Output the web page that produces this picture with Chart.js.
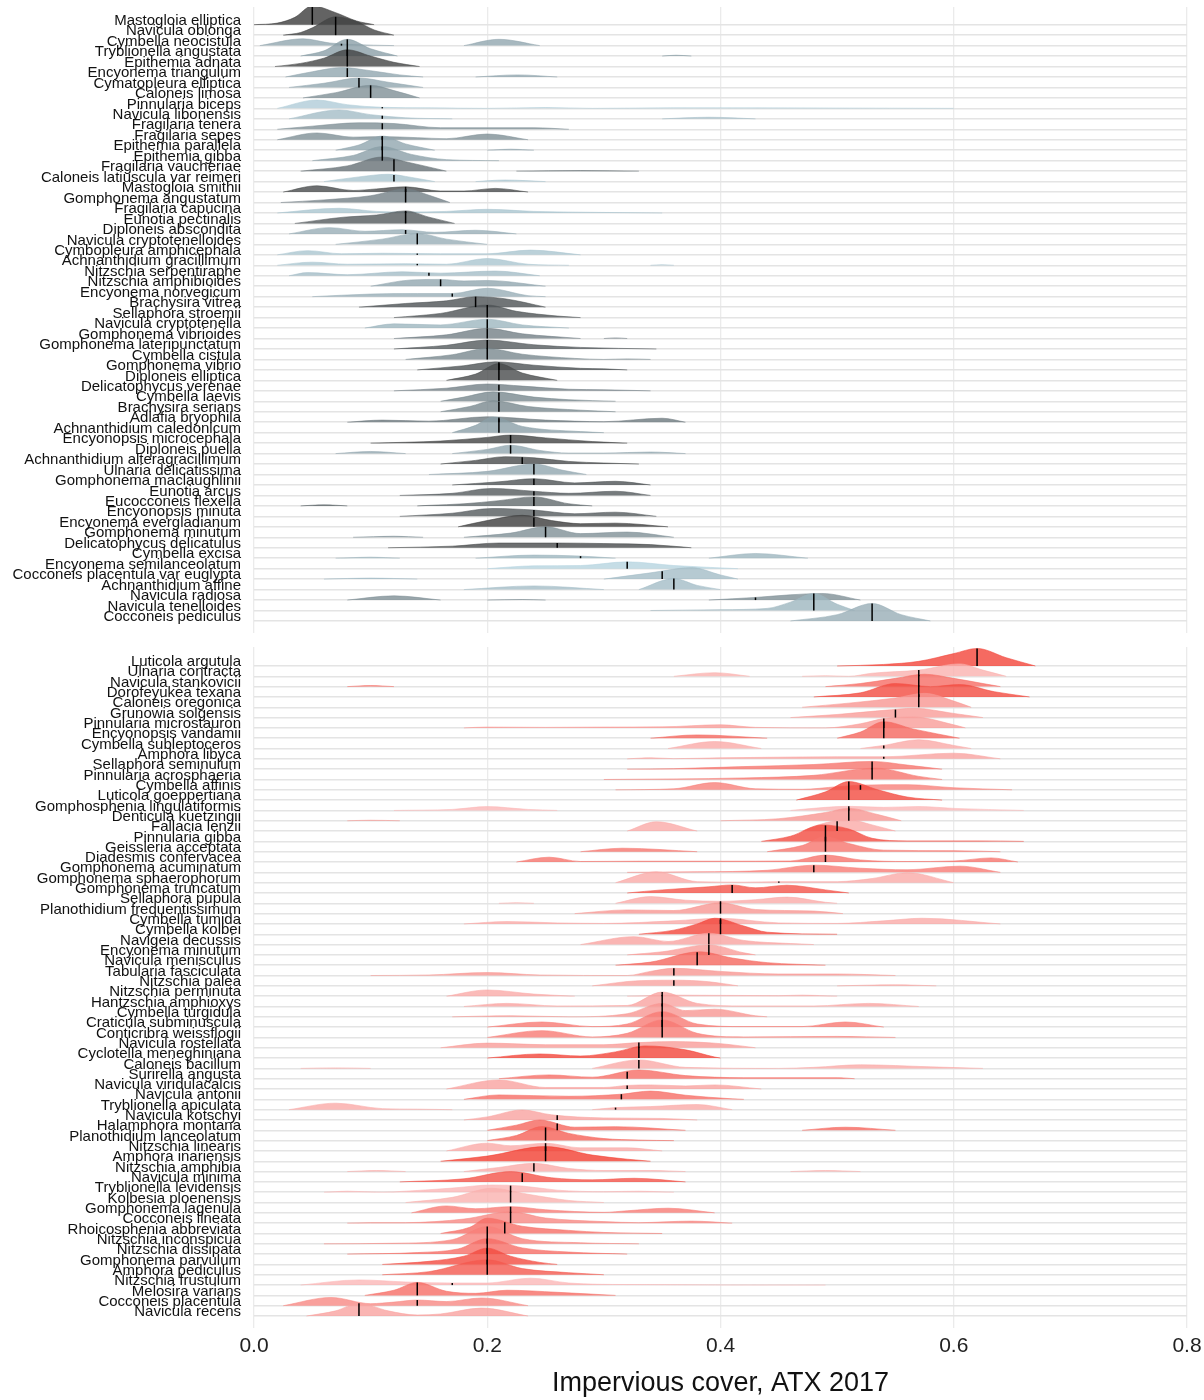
<!DOCTYPE html>
<html>
<head>
<meta charset="utf-8">
<title>Impervious cover ridgelines</title>
<script src="https://cdn.jsdelivr.net/npm/chart.js@4/dist/chart.umd.min.js"></script>
<style>

	body { margin: 0; background: #fff; }
	#wrap { position: relative; width: 1204px; height: 1400px; }
	canvas { position: absolute; left: 0; }
	#top { top: 0; }
	#bottom { top: 640px; }

</style>
</head>
<body>
<div id="wrap">
	<canvas id="top" width="1204" height="640"></canvas>
	<canvas id="bottom" width="1204" height="760"></canvas>
</div>
<script>

// species in the upper panel, top to bottom
const topNames = [
	'Mastogloia elliptica', 'Navicula oblonga', 'Cymbella neocistula', 'Tryblionella angustata',
	'Epithemia adnata', 'Encyonema triangulum', 'Cymatopleura elliptica', 'Caloneis limosa',
	'Pinnularia biceps', 'Navicula libonensis', 'Fragilaria tenera', 'Fragilaria sepes',
	'Epithemia parallela', 'Epithemia gibba', 'Fragilaria vaucheriae', 'Caloneis latiuscula var reimeri',
	'Mastogloia smithii', 'Gomphonema angustatum', 'Fragilaria capucina', 'Eunotia pectinalis',
	'Diploneis abscondita', 'Navicula cryptotenelloides', 'Cymbopleura amphicephala', 'Achnanthidium gracillimum',
	'Nitzschia serpentiraphe', 'Nitzschia amphibioides', 'Encyonema norvegicum', 'Brachysira vitrea',
	'Sellaphora stroemii', 'Navicula cryptotenella', 'Gomphonema vibrioides', 'Gomphonema lateripunctatum',
	'Cymbella cistula', 'Gomphonema vibrio', 'Diploneis elliptica', 'Delicatophycus verenae',
	'Cymbella laevis', 'Brachysira serians', 'Adlafia bryophila', 'Achnanthidium caledonicum',
	'Encyonopsis microcephala', 'Diploneis puella', 'Achnanthidium alteragracillimum', 'Ulnaria delicatissima',
	'Gomphonema maclaughlinii', 'Eunotia arcus', 'Eucocconeis flexella', 'Encyonopsis minuta',
	'Encyonema evergladianum', 'Gomphonema minutum', 'Delicatophycus delicatulus', 'Cymbella excisa',
	'Encyonema semilanceolatum', 'Cocconeis placentula var euglypta', 'Achnanthidium affine', 'Navicula radiosa',
	'Navicula tenelloides', 'Cocconeis pediculus'
];

// threshold marks (impervious cover) for the upper panel
const topTicks = [
	0.05, 0.07, 0.075, 0.08, 0.08, 0.08, 0.09, 0.10, 0.11, 0.11, 0.11, 0.11, 0.11, 0.11,
	0.12, 0.12, 0.13, 0.13, 0.13, 0.13, 0.13, 0.14, 0.14, 0.14, 0.15, 0.16, 0.17, 0.19,
	0.20, 0.20, 0.20, 0.20, 0.20, 0.21, 0.21, 0.21, 0.21, 0.21, 0.21, 0.21, 0.22, 0.22,
	0.23, 0.24, 0.24, 0.24, 0.24, 0.24, 0.24, 0.25, 0.26, 0.28, 0.32, 0.35, 0.36, 0.43,
	0.48, 0.53
];

// fill shade, 0 = dark grey, 1 = light blue
const topShade = [
	0.0, 0.05, 0.7, 0.65, 0.05, 0.7, 0.7, 0.55, 0.95, 0.85, 0.55, 0.55, 0.7, 0.65,
	0.35, 0.9, 0.1, 0.45, 0.9, 0.2, 0.75, 0.75, 0.9, 0.9, 0.85, 0.7, 0.75, 0.15,
	0.15, 0.8, 0.45, 0.2, 0.5, 0.15, 0.1, 0.45, 0.5, 0.5, 0.4, 0.65, 0.05, 0.7,
	0.1, 0.7, 0.15, 0.2, 0.3, 0.2, 0.0, 0.55, 0.1, 0.8, 1.0, 0.85, 0.85, 0.55,
	0.8, 0.75
];

// density outlines as x, height pairs (height in rows)
const topRidges = [
	[ 0.0,0, 0.02,0.15, 0.035,0.7, 0.05,1.8, 0.07,1.15, 0.088,0.35, 0.103,0 ],
	[ 0.025,0, 0.04,0.25, 0.05,0.7, 0.07,1.75, 0.088,1.3, 0.103,0.5, 0.12,0 ],
	[ 0.005,0, 0.042,0.65, 0.065,0.25, 0.085,0.1, 0.12,0, 0.18,0, 0.21,0.6, 0.245,0 ],
	[ 0.04,0, 0.06,0.5, 0.08,1.6, 0.1,0.7, 0.123,0, 0.35,0, 0.362,0.08, 0.375,0 ],
	[ 0.018,0, 0.04,0.3, 0.06,0.8, 0.08,1.6, 0.1,1.0, 0.12,0.4, 0.142,0 ],
	[ 0.027,0, 0.05,0.5, 0.075,0.9, 0.1,0.6, 0.125,0.2, 0.145,0, 0.19,0, 0.226,0.2, 0.26,0 ],
	[ 0.03,0, 0.06,0.4, 0.09,0.9, 0.115,0.5, 0.145,0 ],
	[ 0.042,0, 0.07,0.5, 0.1,1.2, 0.12,0.7, 0.142,0 ],
	[ 0.02,0, 0.054,0.8, 0.08,0.35, 0.11,0.1, 0.15,0.05, 0.2,0, 0.25,0.08, 0.29,0, 0.36,0.05, 0.5,0.03, 0.6,0 ],
	[ 0.03,0, 0.073,0.85, 0.1,0.4, 0.13,0.1, 0.17,0, 0.35,0, 0.39,0.15, 0.43,0 ],
	[ 0.02,0, 0.05,0.3, 0.09,0.62, 0.12,0.55, 0.16,0.15, 0.2,0.15, 0.24,0.15, 0.27,0 ],
	[ 0.02,0, 0.054,0.65, 0.085,0.25, 0.11,0.3, 0.14,0.2, 0.165,0.1, 0.2,0.55, 0.235,0 ],
	[ 0.07,0, 0.09,0.5, 0.11,1.35, 0.13,0.6, 0.155,0, 0.2,0, 0.22,0.1, 0.24,0 ],
	[ 0.05,0, 0.085,0.5, 0.11,1.35, 0.135,0.6, 0.165,0.1, 0.21,0 ],
	[ 0.04,0, 0.08,0.5, 0.11,1.35, 0.13,0.9, 0.165,0, 0.225,0, 0.28,0.05, 0.33,0 ],
	[ 0.06,0, 0.09,0.45, 0.115,0.7, 0.135,0.4, 0.155,0, 0.19,0, 0.215,0.15, 0.25,0 ],
	[ 0.025,0, 0.054,0.6, 0.085,0.15, 0.105,0.3, 0.13,0.5, 0.16,0.1, 0.18,0.1, 0.207,0.35, 0.235,0 ],
	[ 0.023,0, 0.06,0.25, 0.1,0.65, 0.13,1.3, 0.15,0.7, 0.168,0 ],
	[ 0.02,0, 0.073,0.45, 0.105,0.15, 0.13,0.1, 0.165,0.15, 0.2,0.35, 0.24,0.15, 0.3,0.05, 0.35,0 ],
	[ 0.035,0, 0.077,0.6, 0.105,0.8, 0.13,1.2, 0.15,0.6, 0.172,0 ],
	[ 0.03,0, 0.065,0.6, 0.095,0.25, 0.127,0.4, 0.155,0.15, 0.19,0.35, 0.225,0 ],
	[ 0.07,0, 0.11,0.5, 0.14,1.05, 0.165,0.5, 0.2,0 ],
	[ 0.02,0, 0.046,0.4, 0.075,0.1, 0.11,0.15, 0.16,0.1, 0.2,0.1, 0.237,0.45, 0.28,0 ],
	[ 0.02,0, 0.05,0.3, 0.08,0.1, 0.13,0.15, 0.165,0.1, 0.2,0.65, 0.235,0.1, 0.27,0, 0.34,0, 0.35,0.05, 0.36,0 ],
	[ 0.03,0, 0.046,0.3, 0.08,0.1, 0.127,0.38, 0.16,0.25, 0.207,0.45, 0.245,0 ],
	[ 0.1,0, 0.135,0.6, 0.16,0.65, 0.18,0.5, 0.2,0.55, 0.25,0 ],
	[ 0.05,0, 0.1,0.25, 0.14,0.3, 0.17,0.3, 0.2,0.8, 0.235,0.1, 0.25,0 ],
	[ 0.09,0, 0.13,0.35, 0.165,0.6, 0.19,1.0, 0.215,0.8, 0.25,0 ],
	[ 0.12,0, 0.16,0.4, 0.2,1.2, 0.225,0.6, 0.26,0.15, 0.28,0 ],
	[ 0.095,0, 0.12,0.4, 0.16,0.3, 0.2,0.85, 0.23,0.3, 0.27,0 ],
	[ 0.12,0, 0.165,0.35, 0.2,0.97, 0.23,0.45, 0.28,0, 0.3,0, 0.31,0.06, 0.32,0 ],
	[ 0.12,0, 0.165,0.35, 0.2,0.85, 0.24,0.4, 0.28,0.15, 0.345,0 ],
	[ 0.13,0, 0.17,0.45, 0.2,1.05, 0.23,0.5, 0.275,0.1, 0.3,0, 0.32,0.05, 0.34,0 ],
	[ 0.14,0, 0.18,0.4, 0.207,0.77, 0.24,0.45, 0.28,0.15, 0.3,0.1, 0.32,0 ],
	[ 0.165,0, 0.19,0.6, 0.21,1.6, 0.23,0.7, 0.26,0 ],
	[ 0.12,0, 0.165,0.25, 0.2,0.65, 0.23,0.45, 0.27,0.15, 0.3,0.1, 0.34,0 ],
	[ 0.16,0, 0.18,0.4, 0.205,0.9, 0.24,0.4, 0.27,0.15, 0.31,0 ],
	[ 0.16,0, 0.185,0.5, 0.205,1.05, 0.235,0.5, 0.28,0.15, 0.31,0 ],
	[ 0.08,0, 0.11,0.2, 0.15,0.1, 0.2,0.52, 0.25,0.2, 0.3,0.05, 0.35,0.38, 0.37,0 ],
	[ 0.17,0, 0.19,0.7, 0.205,1.5, 0.23,0.6, 0.28,0.1, 0.3,0 ],
	[ 0.1,0, 0.16,0.2, 0.2,0.55, 0.22,0.77, 0.25,0.5, 0.29,0.15, 0.32,0 ],
	[ 0.07,0, 0.1,0.2, 0.13,0, 0.17,0, 0.2,0.4, 0.22,0.8, 0.245,0.3, 0.27,0.05, 0.3,0.05, 0.34,0.15, 0.37,0 ],
	[ 0.16,0, 0.19,0.35, 0.215,0.7, 0.24,0.6, 0.27,0.25, 0.3,0.1, 0.33,0 ],
	[ 0.15,0, 0.2,0.3, 0.24,1.0, 0.265,0.4, 0.285,0 ],
	[ 0.17,0, 0.21,0.3, 0.24,0.6, 0.275,0.2, 0.31,0.35, 0.34,0 ],
	[ 0.125,0, 0.17,0.2, 0.204,0.67, 0.24,0.4, 0.27,0.2, 0.31,0.4, 0.34,0 ],
	[ 0.04,0, 0.06,0.1, 0.08,0, 0.14,0, 0.15,0.05, 0.18,0.2, 0.21,0.5, 0.24,0.86, 0.27,0.2, 0.29,0 ],
	[ 0.125,0, 0.17,0.3, 0.204,0.75, 0.24,0.6, 0.275,0.25, 0.31,0.4, 0.345,0 ],
	[ 0.175,0, 0.2,0.6, 0.23,1.1, 0.255,0.6, 0.28,0.3, 0.31,0.35, 0.355,0 ],
	[ 0.085,0, 0.12,0.1, 0.145,0, 0.18,0, 0.22,0.4, 0.25,1.0, 0.28,0.35, 0.32,0.5, 0.36,0 ],
	[ 0.115,0, 0.17,0.15, 0.21,0.45, 0.26,0.45, 0.3,0.4, 0.34,0.3, 0.375,0 ],
	[ 0.07,0, 0.1,0.1, 0.125,0, 0.19,0, 0.24,0.3, 0.28,0.2, 0.31,0, 0.39,0, 0.43,0.45, 0.475,0 ],
	[ 0.2,0, 0.24,0.27, 0.28,0.3, 0.32,0.65, 0.36,0.3, 0.415,0 ],
	[ 0.06,0, 0.1,0.1, 0.14,0, 0.3,0, 0.34,0.6, 0.375,1.1, 0.4,0.4, 0.415,0 ],
	[ 0.18,0, 0.24,0.35, 0.3,0, 0.33,0, 0.36,1.05, 0.38,0.4, 0.4,0 ],
	[ 0.08,0, 0.12,0.4, 0.16,0, 0.2,0, 0.23,0.05, 0.25,0, 0.39,0, 0.43,0.25, 0.46,0.5, 0.487,0.63, 0.52,0 ],
	[ 0.34,0, 0.4,0.08, 0.44,0.2, 0.46,0.8, 0.48,1.62, 0.5,0.6, 0.515,0 ],
	[ 0.46,0, 0.5,0.6, 0.53,1.67, 0.555,0.6, 0.58,0 ]
];

// species in the lower panel, top to bottom
const botNames = [
	'Luticola argutula', 'Ulnaria contracta', 'Navicula stankovicii', 'Dorofeyukea texana',
	'Caloneis oregonica', 'Grunowia solgensis', 'Pinnularia microstauron', 'Encyonopsis vandamii',
	'Cymbella subleptoceros', 'Amphora libyca', 'Sellaphora seminulum', 'Pinnularia acrosphaeria',
	'Cymbella affinis', 'Luticola goeppertiana', 'Gomphosphenia lingulatiformis', 'Denticula kuetzingii',
	'Fallacia lenzii', 'Pinnularia gibba', 'Geissleria acceptata', 'Diadesmis confervacea',
	'Gomphonema acuminatum', 'Gomphonema sphaerophorum', 'Gomphonema truncatum', 'Sellaphora pupula',
	'Planothidium frequentissimum', 'Cymbella tumida', 'Cymbella kolbei', 'Navigeia decussis',
	'Encyonema minutum', 'Navicula menisculus', 'Tabularia fasciculata', 'Nitzschia palea',
	'Nitzschia perminuta', 'Hantzschia amphioxys', 'Cymbella turgidula', 'Craticula subminuscula',
	'Conticribra weissflogii', 'Navicula rostellata', 'Cyclotella meneghiniana', 'Caloneis bacillum',
	'Surirella angusta', 'Navicula viridulacalcis', 'Navicula antonii', 'Tryblionella apiculata',
	'Navicula kotschyi', 'Halamphora montana', 'Planothidium lanceolatum', 'Nitzschia linearis',
	'Amphora inariensis', 'Nitzschia amphibia', 'Navicula minima', 'Tryblionella levidensis',
	'Kolbesia ploenensis', 'Gomphonema lagenula', 'Cocconeis lineata', 'Rhoicosphenia abbreviata',
	'Nitzschia inconspicua', 'Nitzschia dissipata', 'Gomphonema parvulum', 'Amphora pediculus',
	'Nitzschia frustulum', 'Melosira varians', 'Cocconeis placentula', 'Navicula recens'
];

const botTicks = [
	0.62, 0.57, 0.57, 0.57, 0.57, 0.55, 0.54, 0.54, 0.54, 0.54, 0.53, 0.53, 0.52, 0.51,
	0.51, 0.51, 0.50, 0.49, 0.49, 0.49, 0.48, 0.45, 0.41, 0.40, 0.40, 0.40, 0.40, 0.39,
	0.39, 0.38, 0.36, 0.36, 0.35, 0.35, 0.35, 0.35, 0.35, 0.33, 0.33, 0.33, 0.32, 0.32,
	0.315, 0.31, 0.26, 0.26, 0.25, 0.25, 0.25, 0.24, 0.23, 0.22, 0.22, 0.22, 0.22, 0.215,
	0.20, 0.20, 0.20, 0.20, 0.17, 0.14, 0.14, 0.09
];

// fill shade, 0 = red, 1 = light pink
const botShade = [
	0.1, 0.9, 0.4, 0.15, 0.7, 0.75, 0.75, 0.35, 0.85, 0.8, 0.45, 0.45, 0.55, 0.15,
	0.95, 0.7, 0.85, 0.15, 0.45, 0.45, 0.5, 0.85, 0.2, 0.85, 0.7, 0.85, 0.1, 0.8,
	0.75, 0.35, 0.7, 0.8, 0.85, 0.8, 0.7, 0.5, 0.5, 0.75, 0.1, 0.85, 0.4, 0.8,
	0.4, 0.85, 0.8, 0.35, 0.3, 0.85, 0.05, 0.85, 0.2, 0.95, 0.9, 0.5, 0.6, 0.4,
	0.55, 0.4, 0.15, 0.25, 0.95, 0.4, 0.6, 0.8
];

const botRidges = [
	[ 0.5,0, 0.54,0.15, 0.57,0.45, 0.6,1.2, 0.62,1.7, 0.645,0.8, 0.67,0 ],
	[ 0.36,0, 0.395,0.35, 0.425,0, 0.47,0, 0.49,0.05, 0.51,0, 0.53,0.3, 0.57,0.6, 0.605,1.2, 0.625,0.6, 0.645,0 ],
	[ 0.08,0, 0.1,0.1, 0.12,0, 0.49,0, 0.52,0.3, 0.55,0.8, 0.575,1.2, 0.6,0.8, 0.625,0.3, 0.64,0 ],
	[ 0.48,0, 0.52,0.4, 0.55,1.3, 0.58,1.0, 0.605,1.2, 0.635,0.5, 0.665,0 ],
	[ 0.47,0, 0.51,0.4, 0.55,0.9, 0.575,1.35, 0.6,0.6, 0.615,0 ],
	[ 0.46,0, 0.5,0.3, 0.54,0.7, 0.566,0.9, 0.6,0.4, 0.625,0 ],
	[ 0.18,0, 0.2,0.08, 0.25,0.05, 0.3,0.08, 0.35,0.1, 0.4,0.3, 0.43,0.05, 0.49,0, 0.52,0.4, 0.54,0.9, 0.566,1.05, 0.6,0.3, 0.61,0 ],
	[ 0.34,0, 0.38,0.32, 0.44,0, 0.5,0, 0.52,0.6, 0.54,1.6, 0.565,0.9, 0.605,0 ],
	[ 0.355,0, 0.395,0.68, 0.435,0, 0.52,0, 0.54,0.3, 0.57,0.85, 0.6,0.3, 0.615,0 ],
	[ 0.32,0, 0.34,0.1, 0.36,0.02, 0.4,0.1, 0.44,0.15, 0.5,0.2, 0.54,0.2, 0.6,0.55, 0.64,0 ],
	[ 0.32,0, 0.36,0.05, 0.42,0.25, 0.48,0.45, 0.53,0.75, 0.56,0.4, 0.59,0 ],
	[ 0.3,0, 0.36,0.05, 0.42,0.15, 0.48,0.4, 0.533,1.1, 0.57,0.3, 0.59,0 ],
	[ 0.31,0, 0.36,0.1, 0.395,0.7, 0.43,0.1, 0.47,0.05, 0.5,0.3, 0.52,0.45, 0.56,0.5, 0.6,0.2, 0.65,0 ],
	[ 0.465,0, 0.49,0.8, 0.51,1.8, 0.535,1.0, 0.56,0.3, 0.59,0 ],
	[ 0.12,0, 0.17,0.1, 0.2,0.37, 0.235,0.1, 0.26,0, 0.46,0, 0.49,0.3, 0.51,0.4, 0.54,0.3, 0.57,0.38, 0.6,0.2, 0.66,0 ],
	[ 0.08,0, 0.1,0.05, 0.125,0, 0.4,0, 0.45,0.2, 0.49,0.8, 0.51,1.2, 0.535,0.6, 0.555,0 ],
	[ 0.32,0, 0.345,0.9, 0.38,0, 0.47,0, 0.49,0.8, 0.51,1.1, 0.53,0.6, 0.55,0 ],
	[ 0.435,0, 0.46,0.5, 0.487,1.6, 0.51,1.2, 0.53,0.3, 0.56,0.05, 0.62,0.05, 0.66,0 ],
	[ 0.28,0, 0.316,0.34, 0.38,0, 0.44,0, 0.47,0.6, 0.49,1.45, 0.51,0.8, 0.54,0.15, 0.6,0.1, 0.64,0 ],
	[ 0.225,0, 0.253,0.47, 0.28,0.05, 0.33,0.08, 0.4,0.08, 0.46,0.1, 0.49,0.68, 0.52,0.2, 0.56,0.05, 0.6,0.1, 0.632,0.4, 0.655,0 ],
	[ 0.32,0, 0.38,0.05, 0.44,0.2, 0.48,0.7, 0.52,0.4, 0.56,0.25, 0.605,0.6, 0.64,0 ],
	[ 0.31,0, 0.345,1.05, 0.38,0.1, 0.42,0.05, 0.45,0.1, 0.5,0.1, 0.53,0.4, 0.56,0.97, 0.6,0 ],
	[ 0.32,0, 0.35,0.3, 0.39,0.6, 0.41,0.78, 0.43,0.5, 0.457,0.75, 0.49,0.3, 0.51,0 ],
	[ 0.21,0, 0.225,0.05, 0.24,0, 0.31,0, 0.34,0.65, 0.37,0.3, 0.4,0.2, 0.43,0.35, 0.457,0.6, 0.49,0.1, 0.5,0 ],
	[ 0.275,0, 0.32,0.36, 0.36,0.3, 0.4,1.05, 0.43,0.4, 0.48,0.25, 0.505,0 ],
	[ 0.18,0, 0.217,0.23, 0.26,0.1, 0.3,0.05, 0.36,0.3, 0.4,0.55, 0.45,0.1, 0.5,0.05, 0.54,0.3, 0.573,0.55, 0.64,0 ],
	[ 0.33,0, 0.36,0.4, 0.38,1.0, 0.395,1.55, 0.42,0.8, 0.44,0.2, 0.5,0 ],
	[ 0.28,0, 0.326,0.77, 0.355,0.3, 0.39,1.1, 0.42,0.4, 0.46,0.1, 0.48,0 ],
	[ 0.32,0, 0.35,0.3, 0.39,0.97, 0.42,0.2, 0.43,0 ],
	[ 0.31,0, 0.34,0.3, 0.382,1.3, 0.41,0.7, 0.44,0.25, 0.49,0 ],
	[ 0.1,0, 0.15,0.05, 0.2,0.29, 0.245,0.05, 0.32,0, 0.34,0.4, 0.36,0.7, 0.4,0.4, 0.45,0.15, 0.5,0.15, 0.55,0 ],
	[ 0.29,0, 0.33,0.5, 0.36,0.55, 0.39,0.4, 0.415,0, 0.5,0, 0.55,0.1, 0.585,0 ],
	[ 0.165,0, 0.2,0.6, 0.24,0.2, 0.275,0, 0.32,0, 0.36,0.1, 0.45,0.05, 0.47,0.1, 0.5,0 ],
	[ 0.18,0, 0.217,0.3, 0.26,0.05, 0.32,0.1, 0.35,1.4, 0.38,0.3, 0.42,0.05, 0.48,0.05, 0.527,0.3, 0.57,0 ],
	[ 0.17,0, 0.22,0.1, 0.27,0, 0.32,0.3, 0.35,1.3, 0.37,0.6, 0.395,0.74, 0.43,0.1, 0.44,0 ],
	[ 0.2,0, 0.247,0.5, 0.29,0.05, 0.32,0.3, 0.35,1.5, 0.38,0.3, 0.42,0.05, 0.47,0.05, 0.507,0.5, 0.54,0 ],
	[ 0.2,0, 0.247,0.66, 0.29,0.05, 0.32,0.4, 0.35,1.7, 0.38,0.4, 0.42,0.05, 0.5,0.1, 0.55,0 ],
	[ 0.16,0, 0.2,0.45, 0.25,0.3, 0.3,0.3, 0.33,0.5, 0.36,0.6, 0.4,0.4, 0.43,0 ],
	[ 0.2,0, 0.245,0.4, 0.28,0.2, 0.31,0.6, 0.335,1.18, 0.37,0.8, 0.395,0.1, 0.4,0 ],
	[ 0.04,0, 0.07,0.05, 0.1,0, 0.29,0, 0.33,0.82, 0.37,0.1, 0.45,0, 0.48,0.1, 0.52,0.35, 0.58,0.15, 0.625,0 ],
	[ 0.21,0, 0.253,0.37, 0.29,0.15, 0.33,0.85, 0.37,0.3, 0.42,0.1, 0.5,0.1, 0.515,0 ],
	[ 0.165,0, 0.21,0.88, 0.25,0.15, 0.3,0.15, 0.32,0.35, 0.34,0.4, 0.37,0.3, 0.395,0.4, 0.435,0 ],
	[ 0.18,0, 0.21,0.43, 0.27,0.3, 0.315,0.5, 0.34,0.8, 0.37,0.4, 0.41,0.05, 0.42,0 ],
	[ 0.03,0, 0.07,0.63, 0.11,0.1, 0.14,0.05, 0.17,0, 0.29,0, 0.31,0.2, 0.34,0.3, 0.38,0.5, 0.41,0 ],
	[ 0.18,0, 0.2,0.3, 0.23,0.97, 0.255,0.5, 0.3,0.2, 0.35,0.15, 0.38,0 ],
	[ 0.2,0, 0.225,0.5, 0.245,1.0, 0.275,0.3, 0.31,0.35, 0.37,0, 0.47,0, 0.507,0.3, 0.55,0 ],
	[ 0.2,0, 0.225,0.5, 0.247,1.36, 0.27,0.7, 0.3,0.2, 0.33,0.05, 0.36,0 ],
	[ 0.165,0, 0.2,0.75, 0.22,0.5, 0.25,0.75, 0.28,0.3, 0.32,0.3, 0.35,0 ],
	[ 0.16,0, 0.2,0.5, 0.25,1.42, 0.29,0.6, 0.32,0.2, 0.34,0 ],
	[ 0.08,0, 0.105,0.1, 0.13,0, 0.18,0, 0.21,0.4, 0.24,0.8, 0.27,0.3, 0.3,0.1, 0.34,0.1, 0.37,0, 0.46,0, 0.49,0.1, 0.52,0 ],
	[ 0.125,0, 0.18,0.3, 0.22,1.0, 0.255,0.4, 0.29,0.2, 0.326,0.35, 0.37,0 ],
	[ 0.06,0, 0.08,0.1, 0.11,0, 0.13,0.1, 0.17,0.4, 0.204,0.7, 0.23,0.6, 0.26,0.2, 0.3,0.05, 0.33,0.1, 0.36,0 ],
	[ 0.13,0, 0.17,0.5, 0.204,1.38, 0.235,0.8, 0.27,0.2, 0.3,0 ],
	[ 0.135,0, 0.165,0.67, 0.19,0.4, 0.22,0.6, 0.25,0.3, 0.3,0.05, 0.32,0.2, 0.355,0.45, 0.395,0 ],
	[ 0.08,0, 0.1,0.05, 0.13,0.05, 0.18,0.4, 0.22,1.1, 0.25,0.5, 0.3,0.15, 0.33,0.05, 0.375,0.2, 0.41,0 ],
	[ 0.16,0, 0.185,0.6, 0.2,1.48, 0.23,0.7, 0.27,0.3, 0.3,0.1, 0.35,0 ],
	[ 0.06,0, 0.12,0.05, 0.17,0.4, 0.2,1.67, 0.23,0.5, 0.28,0.1, 0.33,0 ],
	[ 0.08,0, 0.14,0.15, 0.175,0.5, 0.2,1.5, 0.23,0.6, 0.27,0.2, 0.32,0 ],
	[ 0.11,0, 0.15,0.3, 0.18,0.8, 0.2,1.58, 0.22,0.8, 0.245,0.2, 0.26,0 ],
	[ 0.11,0, 0.15,0.3, 0.2,1.45, 0.23,0.6, 0.27,0.2, 0.3,0 ],
	[ 0.04,0, 0.09,0.5, 0.13,0.3, 0.17,0.2, 0.2,0.2, 0.237,0.67, 0.27,0.2, 0.32,0.05, 0.49,0 ],
	[ 0.095,0, 0.12,0.5, 0.14,1.25, 0.165,0.4, 0.19,0.2, 0.217,0.5, 0.26,0.3, 0.31,0 ],
	[ 0.025,0, 0.066,0.8, 0.1,0.2, 0.12,0.35, 0.14,0.55, 0.165,0.4, 0.195,0.75, 0.235,0 ],
	[ 0.045,0, 0.07,0.5, 0.09,1.25, 0.115,0.5, 0.14,0.1, 0.16,0.2, 0.195,0.77, 0.235,0 ]
];

const xTicks = [ 0, 0.2, 0.4, 0.6, 0.8 ];

const greyDark = [ 60, 60, 60 ];
const greyLight = [ 182, 212, 224 ];
const redDark = [ 242, 55, 42 ];
const redLight = [ 251, 190, 190 ];

const labelFont = { family: "'Liberation Sans', Arial, sans-serif", size: 15 };

function mix ( a, b, t ) {

	return a.map( ( v, k ) => Math.round( v + ( b[ k ] - v ) * t ) );

}

// height of an outline at x, read along its straight segments
function heightAt ( knots, x ) {

	for ( let j = 0; j < knots.length - 2; j += 2 ) {

		const x0 = knots[ j ], x1 = knots[ j + 2 ];

		if ( x >= x0 && x <= x1 ) {

			const t = x1 > x0 ? ( x - x0 ) / ( x1 - x0 ) : 0;
			return knots[ j + 1 ] + t * ( knots[ j + 3 ] - knots[ j + 1 ] );

		}

	}

	return 0;

}

function ridgeSets ( names, ridges, shade, ticks, dark, light ) {

	const n = names.length;
	const sets = [];

	names.forEach( ( name, i ) => {

		const base = n - 1 - i;
		const knots = ridges[ i ];
		const pts = [];

		for ( let j = 0; j < knots.length; j += 2 ) {

			// leave empty stretches between separate bumps unbroken by an outline
			if ( j > 0 && knots[ j + 1 ] === 0 && knots[ j - 1 ] === 0 ) {

				pts.push( { x: ( knots[ j - 2 ] + knots[ j ] ) / 2, y: null } );

			}

			pts.push( { x: knots[ j ], y: base + knots[ j + 1 ] } );

		}

		const c = mix( dark, light, shade[ i ] );

		sets.push( {
			label: name,
			data: pts,
			fill: { value: base },
			spanGaps: false,
			backgroundColor: `rgba(${c[0]},${c[1]},${c[2]},0.8)`,
			borderColor: `rgba(${c[0]},${c[1]},${c[2]},0.7)`,
			borderWidth: 0.8,
			pointRadius: 0,
			cubicInterpolationMode: 'monotone',
			order: n - i + 2
		} );

		const h = Math.max( heightAt( knots, ticks[ i ] ), 0.12 );

		sets.push( {
			label: name + ' threshold',
			data: [ { x: ticks[ i ], y: base }, { x: ticks[ i ], y: base + h } ],
			fill: false,
			borderColor: '#000',
			borderWidth: 1.5,
			pointRadius: 0,
			order: 0
		} );

	} );

	return sets;

}

function makePanel ( id, names, ridges, shade, ticks, dark, light, opts ) {

	const n = names.length;

	return new Chart( document.getElementById( id ), {
		type: 'line',
		data: { datasets: ridgeSets( names, ridges, shade, ticks, dark, light ) },
		options: {
			responsive: false,
			animation: false,
			devicePixelRatio: 1,
			layout: { padding: { top: 7, right: 17, bottom: opts.padBottom, left: 0 } },
			plugins: { legend: { display: false }, tooltip: { enabled: false } },
			scales: {
				x: {
					type: 'linear',
					min: 0,
					max: 0.8,
					afterBuildTicks: axis => { axis.ticks = xTicks.map( v => ( { value: v } ) ); },
					afterFit: axis => {

						axis.height = opts.axisHeight;
						axis.paddingLeft = 0;
						axis.paddingRight = 0;

					},
					border: { display: false },
					grid: { color: '#ebebeb', lineWidth: 1.3, drawTicks: false },
					ticks: {
						display: opts.showX,
						padding: 6,
						color: '#222',
						font: { family: labelFont.family, size: 21 },
						callback: v => v.toFixed( 1 )
					},
					title: {
						display: opts.showX,
						text: 'Impervious cover, ATX 2017',
						color: '#111',
						font: { family: labelFont.family, size: 27 },
						padding: { top: 4, bottom: 0 }
					}
				},
				y: {
					type: 'linear',
					min: opts.yMin,
					max: n - 1 + opts.yTop,
					afterBuildTicks: axis => { axis.ticks = names.map( ( s, i ) => ( { value: i } ) ); },
					afterFit: axis => {

						axis.width = 254;
						axis.paddingTop = 0;
						axis.paddingBottom = 0;

					},
					border: { display: false },
					grid: { color: '#e4e4e4', lineWidth: 1.5, drawTicks: false },
					ticks: {
						autoSkip: false,
						padding: 13,
						labelOffset: -4,
						color: '#111',
						font: labelFont,
						callback: v => names[ n - 1 - v ]
					}
				}
			}
		}
	} );

}

makePanel( 'top', topNames, topRidges, topShade, topTicks, greyDark, greyLight, {
	padBottom: 7, axisHeight: 0, showX: false, yMin: -1.15, yTop: 1.69
} );

makePanel( 'bottom', botNames, botRidges, botShade, botTicks, redDark, redLight, {
	padBottom: 0, axisHeight: 72, showX: true, yMin: -1.16, yTop: 1.84
} );

</script>
</body>
</html>
